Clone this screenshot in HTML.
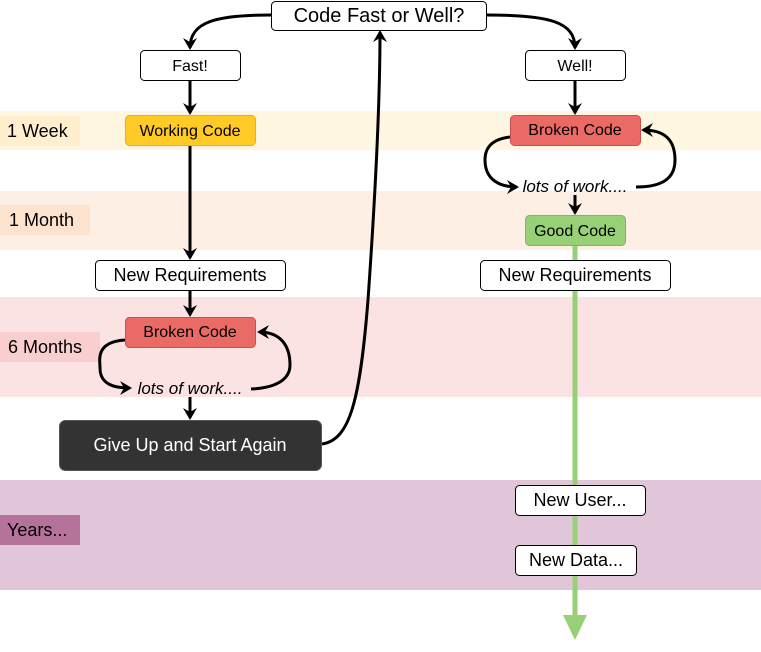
<!DOCTYPE html>
<html><head><style>body{margin:0;background:#fff}svg{display:block}text{font-family:"Liberation Sans",sans-serif}</style></head>
<body>
<svg width="761" height="652" viewBox="0 0 761 652" xmlns="http://www.w3.org/2000/svg">
<defs>
<marker id="a" markerWidth="14" markerHeight="14" refX="10" refY="7" orient="auto" markerUnits="userSpaceOnUse"><path d="M0,0 L12,7 L0,14 L4,7 Z" fill="#000"/></marker>
</defs>
<rect x="0" y="111" width="761" height="39" fill="#fff6e1"/>
<rect x="0" y="116" width="80" height="30" fill="#ffefcf"/>
<rect x="0" y="191" width="761" height="59" fill="#fdefe3"/>
<rect x="0" y="205" width="90" height="30" fill="#fde2cd"/>
<rect x="0" y="297" width="761" height="100" fill="#fbe3e3"/>
<rect x="0" y="332" width="100" height="30" fill="#f8cece"/>
<rect x="0" y="480" width="761" height="110" fill="#e1c6d9"/>
<rect x="0" y="515" width="80" height="30" fill="#b5739b"/>
<g font-size="18" fill="#000">
<text x="7" y="137">1 Week</text>
<text x="9" y="226">1 Month</text>
<text x="8" y="353">6 Months</text>
<text x="7" y="536">Years...</text>
</g>
<line x1="575" y1="245" x2="575" y2="618" stroke="#97d077" stroke-width="5"/>
<path d="M563,615 L587,615 L575,640 Z" fill="#97d077"/>
<g fill="none" stroke="#000" stroke-width="3">
<path d="M271,15 C215,15 190,22 190,48" marker-end="url(#a)"/>
<path d="M487,15 C550,15 575,22 575,48" marker-end="url(#a)"/>
<line x1="190" y1="80" x2="190" y2="113" marker-end="url(#a)"/>
<line x1="575" y1="80" x2="575" y2="113" marker-end="url(#a)"/>
<line x1="190" y1="145" x2="190" y2="258" marker-end="url(#a)"/>
<line x1="190" y1="290" x2="190" y2="315" marker-end="url(#a)"/>
<path d="M125,340 C95,342 100,360 100,368 C100,385 115,388 130,388" marker-end="url(#a)"/>
<path d="M251,389 C275,388 290,380 290,365 C290,345 280,332 259,332" marker-end="url(#a)"/>
<line x1="190" y1="397" x2="190" y2="418" marker-end="url(#a)"/>
<path d="M510,137 C485,140 485,155 485,160 C485,180 500,187 517,187" marker-end="url(#a)"/>
<path d="M636,187 C660,187 675,180 675,160 C675,140 665,130 643,130" marker-end="url(#a)"/>
<line x1="575" y1="195" x2="575" y2="213" marker-end="url(#a)"/>
<path d="M322,444 C350,440 360,400 368,300 C375,200 380,100 380,32" marker-end="url(#a)"/>
</g>
<g stroke="#000" stroke-width="1">
<rect x="271.5" y="1.5" width="215" height="29" rx="4" fill="#fff"/>
<rect x="140.5" y="50.5" width="100" height="30" rx="4" fill="#fff"/>
<rect x="525.5" y="50.5" width="100" height="30" rx="4" fill="#fff"/>
<rect x="95.5" y="260.5" width="190" height="30" rx="4" fill="#fff"/>
<rect x="480.5" y="260.5" width="190" height="30" rx="4" fill="#fff"/>
<rect x="515.5" y="485.5" width="130" height="30" rx="4" fill="#fff"/>
<rect x="515.5" y="545.5" width="121" height="30" rx="4" fill="#fff"/>
</g>
<rect x="125.5" y="115.5" width="130" height="30" rx="4" fill="#ffc926" stroke="#e8b020"/>
<rect x="510.5" y="115.5" width="130" height="30" rx="4" fill="#ea6b66" stroke="#c9504c"/>
<rect x="525.5" y="215.5" width="100" height="30" rx="4" fill="#97d077" stroke="#82b366"/>
<rect x="125.5" y="317.5" width="130" height="30" rx="4" fill="#ea6b66" stroke="#c9504c"/>
<rect x="59.5" y="420.5" width="262" height="50" rx="6" fill="#333" stroke="#555"/>
<g font-size="16" text-anchor="middle" fill="#000">
<text x="379" y="22" font-size="20">Code Fast or Well?</text>
<text x="190" y="71">Fast!</text>
<text x="575" y="71">Well!</text>
<text x="190" y="136">Working Code</text>
<text x="575" y="135">Broken Code</text>
<text x="575" y="236">Good Code</text>
<text x="190" y="281" font-size="18">New Requirements</text>
<text x="575" y="281" font-size="18">New Requirements</text>
<text x="190" y="337">Broken Code</text>
<text x="190" y="394" font-style="italic" font-size="17">lots of work....</text>
<text x="575" y="192" font-style="italic" font-size="17">lots of work....</text>
<text x="190" y="451" fill="#fff" font-size="18">Give Up and Start Again</text>
<text x="580" y="506" font-size="18">New User...</text>
<text x="576" y="566" font-size="18">New Data...</text>
</g>
</svg>
</body></html>
